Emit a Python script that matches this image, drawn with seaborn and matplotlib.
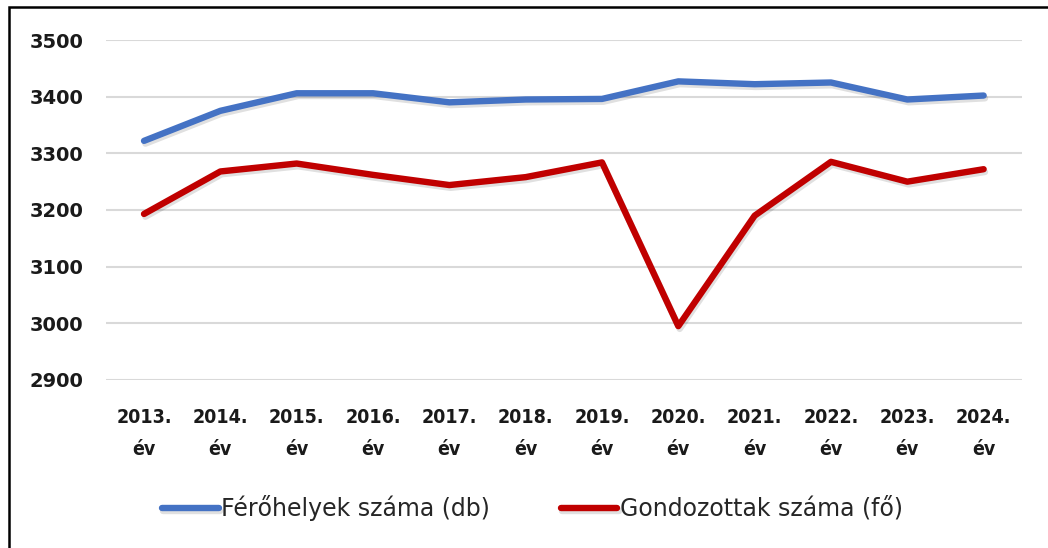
import pandas as pd
import matplotlib
matplotlib.use('Agg')
from matplotlib import pyplot as plt
from matplotlib import patheffects as pe
from matplotlib.patches import Rectangle
import seaborn as sns

years = ['2013.', '2014.', '2015.', '2016.', '2017.', '2018.',
         '2019.', '2020.', '2021.', '2022.', '2023.', '2024.']
ferohelyek = [3322, 3375, 3406, 3406, 3390, 3395, 3396, 3427, 3422, 3425, 3395, 3402]
gondozottak = [3193, 3268, 3282, 3262, 3244, 3258, 3284, 2995, 3190, 3285, 3250, 3272]
series_names = ['Férőhelyek száma (db)', 'Gondozottak száma (fő)']
colors = ['#4472C4', '#C00000']

labels = [y + '\név' for y in years]
df = pd.DataFrame({
    'ev': labels * 2,
    'ertek': ferohelyek + gondozottak,
    'sorozat': [series_names[0]] * len(years) + [series_names[1]] * len(years),
})

sns.set_style('white')
plt.rcParams['font.family'] = ['DejaVu Sans']

fig = plt.figure(figsize=(10.48, 5.48), dpi=100)
ax = fig.add_axes([0.101, 0.3066, 0.874, 0.6204])

sns.lineplot(data=df, x='ev', y='ertek', hue='sorozat', palette=colors,
             linewidth=4.6, sort=False, ax=ax, legend=True)
for line in ax.get_lines():
    line.set_solid_capstyle('round')
    line.set_path_effects([pe.SimpleLineShadow(offset=(1, -2), alpha=0.12),
                           pe.Normal()])

ax.set_ylim(2900, 3500)
ax.set_xlim(-0.5, len(years) - 0.5)
ax.set_yticks(range(2900, 3501, 100))
ax.grid(axis='y', color='#D9D9D9', linewidth=1.5)
ax.set_axisbelow(True)
for s in ax.spines.values():
    s.set_visible(False)
ax.set_xlabel('')
ax.set_ylabel('')
ax.tick_params(axis='both', length=0)
ax.tick_params(axis='x', pad=20)
ax.tick_params(axis='y', pad=16)
for t in ax.get_yticklabels():
    t.set_fontweight('bold')
    t.set_fontsize(14)
    t.set_color('#1a1a1a')
for t in ax.get_xticklabels():
    t.set_fontweight('bold')
    t.set_fontstretch('condensed')
    t.set_fontsize(14)
    t.set_linespacing(1.9)
    t.set_color('#1a1a1a')

handles, lbls = ax.get_legend_handles_labels()
ax.legend(handles, lbls, loc='center', bbox_to_anchor=(0.508, 0.073),
          bbox_transform=fig.transFigure, ncol=2, frameon=False,
          fontsize=17, handlelength=2.4, columnspacing=3.0, handletextpad=0.1)

fig.patches.append(Rectangle((0.009, -0.01), 1.0, 0.997, transform=fig.transFigure,
                             fill=False, edgecolor='black', linewidth=1.8))

fig.savefig('out.png', dpi=100)
plt.close('all')
